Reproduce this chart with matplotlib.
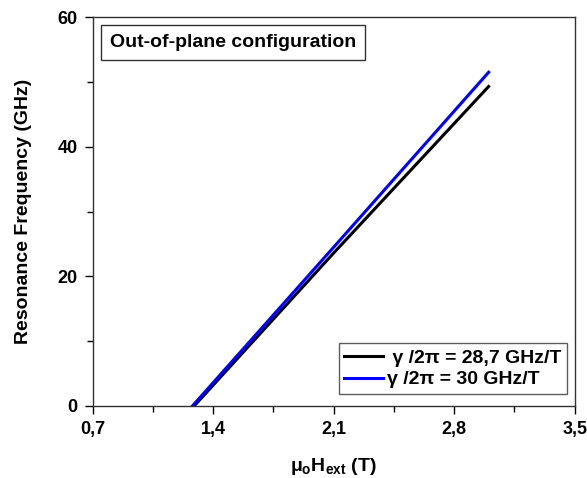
import matplotlib
matplotlib.use('Agg')
import matplotlib.pyplot as plt
from matplotlib.ticker import FuncFormatter, MultipleLocator

plt.rcParams['font.family'] = ['Liberation Sans', 'DejaVu Sans']
plt.rcParams['font.weight'] = 'bold'
plt.rcParams['mathtext.fontset'] = 'custom'
plt.rcParams['mathtext.rm'] = 'Liberation Sans:bold'
plt.rcParams['mathtext.it'] = 'Liberation Sans:bold'
plt.rcParams['mathtext.bf'] = 'Liberation Sans:bold'

# field (T) and resonance frequency (GHz)
h_black = [1.29, 2.1, 3.0]
f_black = [0.0, 23.6, 49.3]
h_blue = [1.28, 2.1, 3.0]
f_blue = [0.0, 24.5, 51.5]
label_black = ' γ /2π = 28,7 GHz/T'
label_blue = 'γ /2π = 30 GHz/T'

fig = plt.figure(figsize=(5.87, 4.78), dpi=100)
ax = fig.add_axes([0.158, 0.151, 0.821, 0.813])

ax.plot(h_black, f_black, color='black', lw=2.2, label=label_black)
ax.plot(h_blue, f_blue, color='#0000ff', lw=2.2, label=label_blue)

ax.set_xlim(0.7, 3.5)
ax.set_ylim(0, 60)
ax.xaxis.set_major_locator(MultipleLocator(0.7))
ax.xaxis.set_minor_locator(MultipleLocator(0.35))
ax.yaxis.set_major_locator(MultipleLocator(20))
ax.yaxis.set_minor_locator(MultipleLocator(10))
ax.xaxis.set_major_formatter(FuncFormatter(lambda v, p: f'{v:.1f}'.replace('.', ',')))
ax.yaxis.set_major_formatter(FuncFormatter(lambda v, p: f'{v:.0f}'))

ax.tick_params(which='both', direction='out', top=False, right=False, labelsize=13, width=1)
ax.tick_params(which='major', length=6, pad=5)
ax.tick_params(which='minor', length=4)
for s in ax.spines.values():
    s.set_linewidth(1)
    s.set_color('#333333')

ax.set_ylabel('Resonance Frequency (GHz)', fontsize=14, fontweight='bold', labelpad=18)
ax.set_xlabel(r'$\mu_o$H$_{\mathrm{ext}}$ (T)', fontsize=14, fontweight='bold', labelpad=13)

ax.text(0.035, 0.935, 'Out-of-plane configuration', transform=ax.transAxes,
        fontsize=14, fontweight='bold', va='center', ha='left',
        bbox=dict(boxstyle='square,pad=0.45', fc='white', ec='#333333', lw=1))

leg = ax.legend(loc='lower right', bbox_to_anchor=(0.985, 0.03), fontsize=14,
                frameon=True, fancybox=False, edgecolor='#333333',
                handlelength=2.0, handletextpad=0.2, borderpad=0.3,
                labelspacing=0.2, borderaxespad=0)
leg.get_frame().set_linewidth(1)

fig.savefig('out.png', dpi=100)
